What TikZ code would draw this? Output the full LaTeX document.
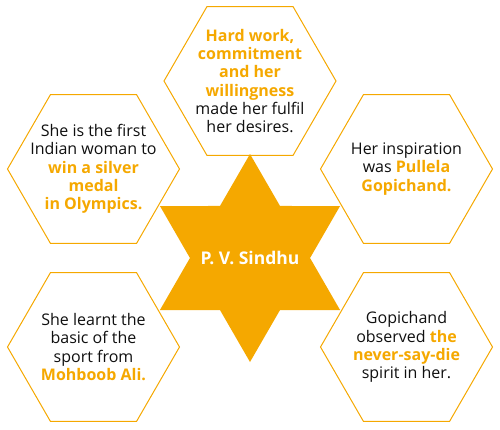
\documentclass[tikz,border=0pt]{standalone}
\usepackage{fontspec}
\setmainfont{Open Sans}
\usepackage{tikz}
\usetikzlibrary{shapes.geometric}
\definecolor{hexorange}{RGB}{245,168,0}
\definecolor{bodytext}{RGB}{15,15,15}
\newcommand{\hitext}[1]{{\bfseries\color{hexorange}#1}}
\tikzset{
  hexa/.style={draw=hexorange,line width=1pt,regular polygon,regular polygon sides=6,minimum size=172pt,inner sep=0pt},
  hextxt/.style={align=center,text=bodytext,font=\fontsize{16}{18.3}\selectfont,inner sep=0pt},
  hub/.style={star,star points=6,star point ratio=1.732,fill=hexorange,minimum size=208pt,inner sep=0pt},
  hubtxt/.style={text=white,font=\fontsize{17.5}{19}\selectfont\bfseries,inner sep=0pt},
}
\begin{document}
\begin{tikzpicture}[x=1pt,y=1pt]
  \useasboundingbox (0,0) rectangle (500,-429);
  \node[hexa] (hexTop) at (250,-81) {};
  \node[hexa] (hexUL) at (93.5,-169) {};
  \node[hexa] (hexUR) at (406.5,-169) {};
  \node[hexa] (hexLL) at (93.5,-347) {};
  \node[hexa] (hexLR) at (406.5,-347) {};
  \node[hextxt] (txtTop) at (hexTop) {\hitext{Hard work,}\\\hitext{commitment}\\\hitext{and her}\\\hitext{willingness}\\made her fulfil\\her desires.};
  \node[hextxt] (txtUL) at (hexUL) {She is the first\\Indian woman to\\\hitext{win a silver}\\\hitext{medal}\\\hitext{in Olympics.}};
  \node[hextxt] (txtUR) at (hexUR) {Her inspiration\\was \hitext{Pullela}\\\hitext{Gopichand.}};
  \node[hextxt] (txtLL) at (hexLL) {She learnt the\\basic of the\\sport from\\\hitext{Mohboob Ali.}};
  \node[hextxt] (txtLR) at (hexLR) {Gopichand\\observed \hitext{the}\\\hitext{never-say-die}\\spirit in her.};
  \node[hub] (sindhu) at (250,-258) {};
  \node[hubtxt] (txtSindhu) at (sindhu) {P. V. Sindhu};
\end{tikzpicture}
\end{document}
